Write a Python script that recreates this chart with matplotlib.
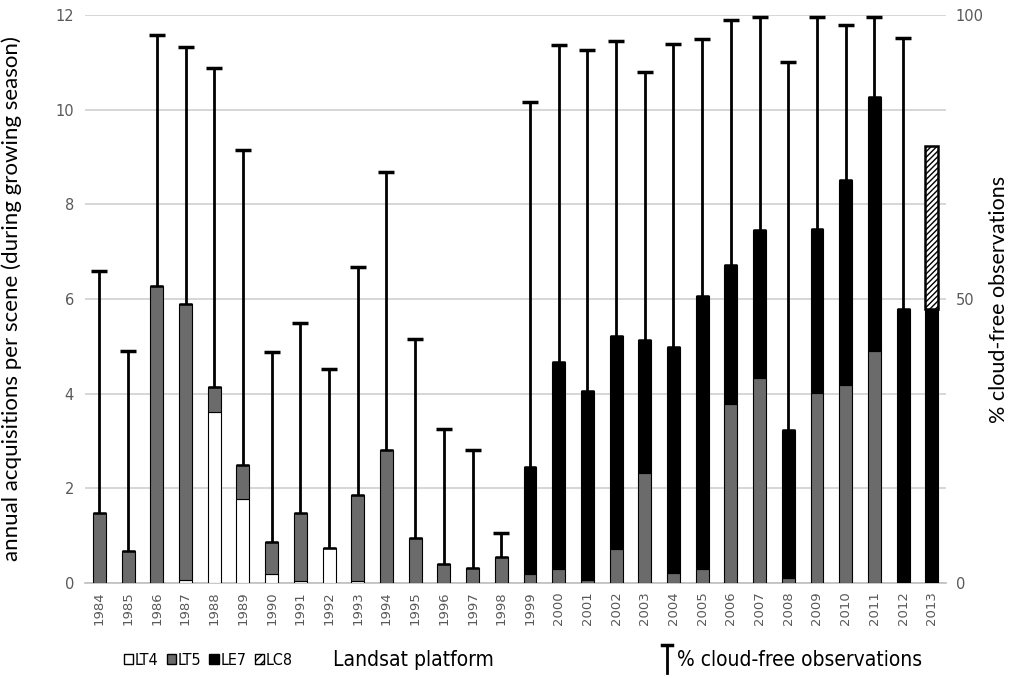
import matplotlib.pyplot as plt
from matplotlib.patches import Patch
from matplotlib.lines import Line2D
import numpy as np

# data
years = [str(y) for y in range(1984, 2014)]
lt4 = [0, 0, 0, 0.06, 3.62, 1.77, 0.20, 0.05, 0.74, 0.04,
       0, 0, 0, 0, 0, 0, 0, 0, 0, 0,
       0, 0, 0, 0, 0, 0, 0, 0, 0, 0]
lt5 = [1.48, 0.68, 6.27, 5.83, 0.53, 0.73, 0.66, 1.43, 0, 1.83,
       2.82, 0.95, 0.40, 0.31, 0.55, 0.19, 0.29, 0.06, 0.71, 2.32,
       0.22, 0.29, 3.79, 4.33, 0.11, 4.01, 4.18, 4.91, 0, 0]
le7 = [0, 0, 0, 0, 0, 0, 0, 0, 0, 0,
       0, 0, 0, 0, 0, 2.26, 4.38, 4.00, 4.50, 2.82,
       4.77, 5.77, 2.92, 3.13, 3.12, 3.47, 4.33, 5.36, 5.78, 5.78]
lc8 = [0] * 29 + [3.46]
cloudfree = [54.9, 40.9, 96.5, 94.3, 90.7, 76.2, 40.6, 45.8, 37.7, 55.7,
             72.3, 42.9, 27.1, 23.5, 8.9, 84.7, 94.7, 93.9, 95.4, 90.0,
             94.8, 95.7, 99.1, 99.6, 91.8, 99.6, 98.3, 99.6, 96.0, np.nan]

x = np.arange(len(years))
lt4 = np.array(lt4); lt5 = np.array(lt5); le7 = np.array(le7); lc8 = np.array(lc8)
total = lt4 + lt5 + le7 + lc8

fig = plt.figure(figsize=(10.13, 6.78), dpi=100)
ax = fig.add_axes([0.084, 0.140, 0.850, 0.838])
ax2 = ax.twinx()

w = 0.45
ax.bar(x, lt4, w, color='white', edgecolor='black', linewidth=0.8, zorder=3)
ax.bar(x, lt5, w, bottom=lt4, color='#6b6b6b', edgecolor='black', linewidth=0.8, zorder=3)
ax.bar(x, le7, w, bottom=lt4 + lt5, color='black', edgecolor='black', linewidth=0.8, zorder=3)
ax.bar(x, lc8, w, bottom=lt4 + lt5 + le7, color='white', edgecolor='black',
       hatch='//////', linewidth=1.8, zorder=3)

# cloud-free lines (right axis)
ax2.set_ylim(0, 100)
cf = np.array(cloudfree)
ok = ~np.isnan(cf)
ax2.vlines(x[ok], (total / 12 * 100)[ok], cf[ok], color='black', linewidth=2, zorder=4)
ax2.plot(x[ok], cf[ok], linestyle='none', marker='_', markersize=12,
         markeredgewidth=2.5, color='black', zorder=4)

ax.set_xlim(-0.5, len(years) - 0.5)
ax.set_ylim(0, 12)
ax.set_yticks(range(0, 13, 2))
ax.yaxis.grid(True, color='#d0d0d0', linewidth=1.2, zorder=0)
ax.set_axisbelow(True)
ax.set_xticks(x)
ax.set_xticklabels(years, rotation=90, color='#595959', fontsize=9.5)
ax.tick_params(axis='y', colors='#595959', labelsize=10.5, length=0, pad=8)
ax.tick_params(axis='x', length=0, pad=6)
ax2.set_yticks([0, 50, 100])
ax2.tick_params(axis='y', colors='#595959', labelsize=10.5, length=0, pad=7)

for a in (ax, ax2):
    for s in a.spines.values():
        s.set_visible(False)
ax.spines['bottom'].set_visible(True)
ax.spines['bottom'].set_color('#bfbfbf')
ax.spines['bottom'].set_linewidth(1.2)

ax.set_ylabel('annual acquisitions per scene (during growing season)',
              fontsize=16, family='Lato', labelpad=24)
ax2.set_ylabel('% cloud-free observations', fontsize=15.5, family='Lato', labelpad=4)

# bottom legend
narrow = {'family': 'DejaVu Sans', 'stretch': 'condensed'}
handles = [Patch(facecolor='white', edgecolor='black'),
           Patch(facecolor='#6b6b6b', edgecolor='black'),
           Patch(facecolor='black', edgecolor='black'),
           Patch(facecolor='white', edgecolor='black', hatch='////')]
fig.legend(handles, ['LT4', 'LT5', 'LE7', 'LC8'], ncol=4, frameon=False,
           loc='center left', bbox_to_anchor=(0.108, 0.026),
           handlelength=0.6, handleheight=0.6, handletextpad=0.1,
           columnspacing=0.5, prop={'size': 11.5, **narrow})
fig.text(0.329, 0.026, 'Landsat platform', fontsize=15, va='center', **narrow)
fig.add_artist(Line2D([0.6585, 0.6585], [0.008, 0.048], color='black', lw=2))
fig.add_artist(Line2D([0.6535, 0.6635], [0.048, 0.048], color='black', lw=2.5))
fig.text(0.668, 0.026, '% cloud-free observations', fontsize=15, va='center', **narrow)

fig.savefig('out.png', dpi=100)
